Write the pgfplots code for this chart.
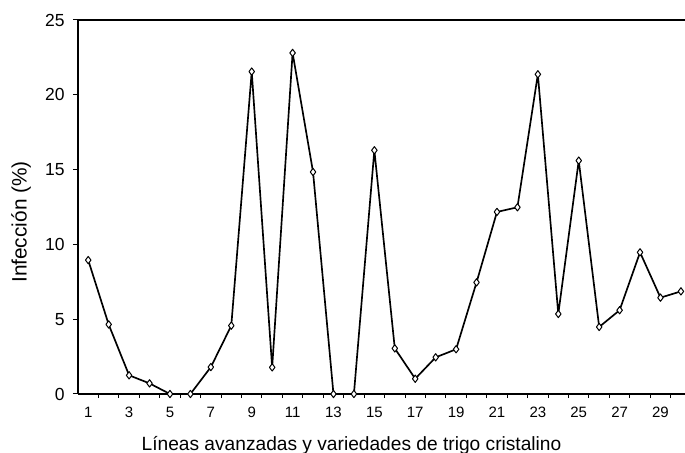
\documentclass[border=0pt]{standalone}
\usepackage{pgfplots}
\pgfplotsset{compat=1.18}
\usepackage{fontspec}
\setmainfont{Liberation Sans}
\begin{document}
\begin{tikzpicture}
\begin{axis}[
  scale only axis,
  width=364.2pt, height=224.4pt,
  xmin=0.5, xmax=30.2,
  ymin=0, ymax=25,
  axis x line*=bottom,
  axis y line*=left,
  axis line style={line width=1pt, -},
  xtick={1,3,...,29},
  major x tick style={draw=none},
  minor xtick={1.5,2.5,...,29.5},
  minor tick length=2.5pt,
  ytick={0,5,...,25},
  major tick length=3pt,
  tick align=outside,
  tick style={black, line width=0.6pt},
  x tick label style={font=\fontsize{9}{10}\selectfont, anchor=center, yshift=-8pt},
  y tick label style={font=\fontsize{10.5}{12}\selectfont, anchor=east, xshift=-1.5pt},
  /pgf/number format/assume math mode=true,
  xlabel={Líneas avanzadas y variedades de trigo cristalino},
  ylabel={Infección (\%)},
  xlabel style={font=\fontsize{11.5}{13}\selectfont, anchor=base,
    at={([xshift=164.1pt,yshift=-34.2pt]axis description cs:0,0)}},
  ylabel style={font=\fontsize{12.5}{14}\selectfont, anchor=center,
    at={([xshift=-34.2pt,yshift=-9pt]axis description cs:0,0.5)}},
  clip=false,
]
\addplot[black, line width=1pt, line join=round, mark=diamond*, mark size=2.2pt,
  mark options={fill=white, line width=0.6pt}] coordinates {
(1,8.95) (2,4.65) (3,1.25) (4,0.71) (5,0) (6,0) (7,1.8) (8,4.57)
(9,21.55) (10,1.78) (11,22.8) (12,14.84) (13,0) (14,0) (15,16.29)
(16,3.05) (17,1.02) (18,2.45) (19,2.99) (20,7.46) (21,12.17) (22,12.48)
(23,21.37) (24,5.35) (25,15.6) (26,4.48) (27,5.6) (28,9.47) (29,6.44) (30,6.86)
};
\draw[line width=1pt] (rel axis cs:0,1) -- (rel axis cs:1,1);
\end{axis}
\pgfresetboundingbox
\path[use as bounding box]
  ([shift={(-46.8pt,-35.4pt)}]current axis.south west)
  rectangle ([shift={(0pt,12pt)}]current axis.north east);
\end{tikzpicture}
\end{document}
